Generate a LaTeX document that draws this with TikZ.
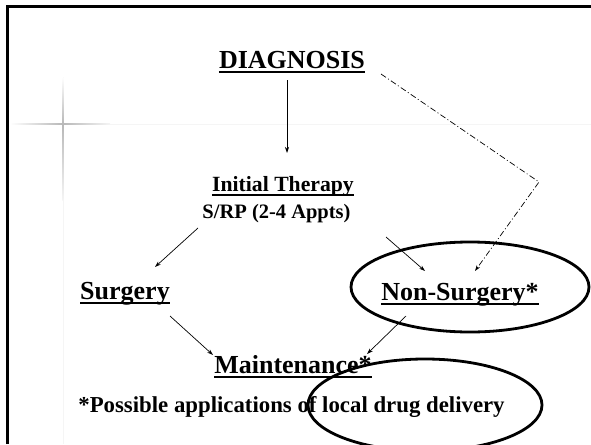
\documentclass[tikz,border=0pt]{standalone}
\usepackage{fontspec}
\setmainfont{Liberation Serif}
\usetikzlibrary{calc,arrows.meta}
\begin{document}
\begin{tikzpicture}[x=1pt,y=-1pt,
  lbl/.style={anchor=base,inner sep=0pt,font=\bfseries},
  ul/.style={line width=2pt},
  arr/.style={-{Stealth[length=6pt,width=4pt]},line width=0.7pt},
  dd/.style={-{Stealth[length=6pt,width=4pt]},line width=0.7pt,dash pattern=on 6pt off 2.5pt on 1pt off 2.5pt},
  ring/.style={line width=2.8pt}]
\useasboundingbox (0,0) rectangle (591,444);
% faint guide cross
\fill[black!4] (10,123.5) rectangle (591,124.5);
\fill[black!4] (62.5,77) rectangle (63.5,444);
\shade[left color=white,right color=black!28] (10,123.4) rectangle (63,124.6);
\shade[left color=black!28,right color=black!4] (63,123.4) rectangle (110,124.6);
\shade[top color=white,bottom color=black!28] (62.4,77) rectangle (63.6,124);
\shade[top color=black!28,bottom color=black!4] (62.4,124) rectangle (63.6,200);
% frame
\draw[line width=2.6pt] (7.5,444) -- (7.5,6.5) -- (591,6.5);
% texts
\node[lbl,font=\bfseries\fontsize{26}{28}\selectfont] (diag) at (292,68) {DIAGNOSIS};
\node[lbl,font=\bfseries\fontsize{21.7}{24}\selectfont] (init) at (283,191) {Initial Therapy};
\node[lbl,font=\bfseries\fontsize{20.5}{23}\selectfont] (srp) at (276.5,218) {S/RP (2-4 Appts)};
\node[lbl,font=\bfseries\fontsize{26}{28}\selectfont] (surg) at (125,299) {Surgery};
\node[lbl,font=\bfseries\fontsize{26}{28}\selectfont] (nons) at (460,300) {Non-Surgery*};
\node[lbl,font=\bfseries\fontsize{26}{28}\selectfont] (maint) at (293,373) {Maintenance*};
\node[lbl,font=\bfseries\fontsize{22.8}{25}\selectfont] (poss) at (291.5,412) {*Possible applications of local drug delivery};
% underlines
\foreach \n in {diag,init,surg,nons,maint}
  \draw[ul] ($(\n.base west)+(0,4)$) -- ($(\n.base east)+(0,4)$);
% ellipses
\draw[ring] (470,287) ellipse [x radius=119pt,y radius=45pt];
\draw[ring] (425,405) ellipse [x radius=117pt,y radius=46pt];
% connectors
\draw[arr] ($(diag.base)+(-5,12)$) -- ($(init.base)+(4,-38)$);
\draw[arr] ($(srp.base)+(-78.5,10)$) -- ($(surg.base)+(30,-32)$);
\draw[arr] ($(srp.base)+(109.5,19)$) -- ($(nons.base)+(-35,-29)$);
\coordinate (bend) at (539,182);
\draw[dd] ($(diag.base)+(89,6)$) -- (bend) -- ($(nons.base)+(15,-29)$);
\draw[arr] ($(surg.base)+(45,17)$) -- ($(maint.base)+(-80,-18)$);
\draw[arr] ($(nons.base)+(-54,16)$) -- ($(maint.base)+(74,-19)$);
\end{tikzpicture}
\end{document}
